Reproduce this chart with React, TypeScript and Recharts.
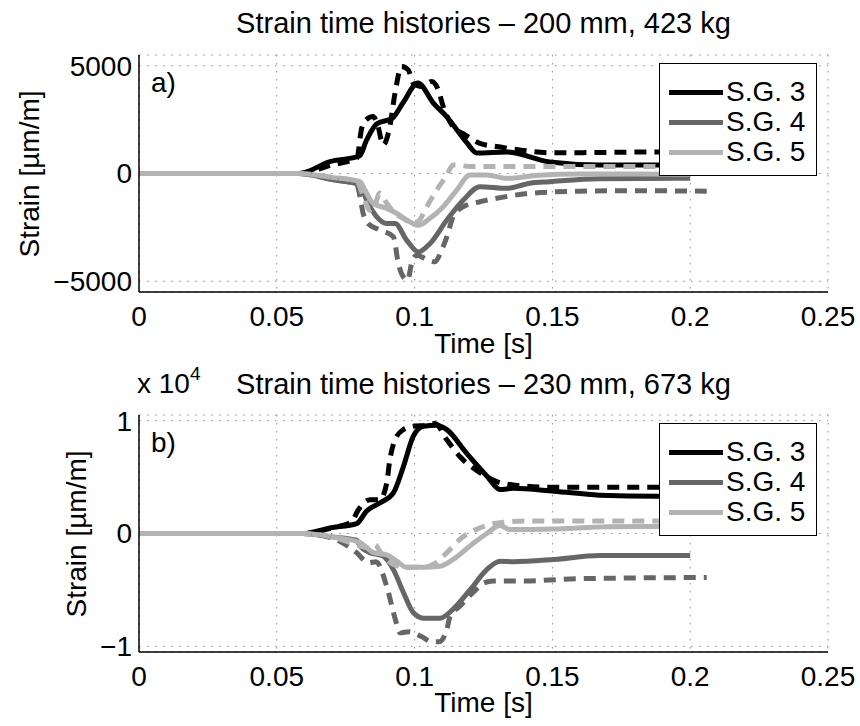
import { LineChart, Line, XAxis, YAxis, CartesianGrid, Legend } from 'recharts';

// axis ticks
const timeTicks = [0, 0.05, 0.1, 0.15, 0.2, 0.25];
const strainTicksA = [-5000, 0, 5000];
const strainTicksB = [-10000, 0, 10000];

// a) 200 mm, 423 kg  -- s = solid, d = dashed
const tA3s = [0, 0.058, 0.0693, 0.08, 0.0826, 0.0862, 0.092, 0.0958, 0.1012, 0.1068, 0.1117, 0.119, 0.1226, 0.1335, 0.149, 0.167, 0.188, 0.2];
const vA3s = [0, 0, 550, 814, 1560, 2300, 2580, 3280, 4200, 3270, 2630, 1420, 950, 1000, 535, 395, 395, 400];
const tA3d = [0, 0.058, 0.07, 0.079, 0.0808, 0.0825, 0.0849, 0.0865, 0.0886, 0.0911, 0.0929, 0.0953, 0.0977, 0.0995, 0.1026, 0.1062, 0.1086, 0.1104, 0.1135, 0.1183, 0.1237, 0.1298, 0.1382, 0.15, 0.17, 0.19, 0.206];
const vA3d = [0, 0, 400, 710, 2100, 2500, 2640, 2300, 1330, 2250, 3740, 4970, 4810, 4200, 4040, 4270, 3880, 3100, 2260, 1790, 1400, 1250, 1090, 960, 980, 1000, 1000];
const tA4s = [0, 0.058, 0.07, 0.0802, 0.0826, 0.0862, 0.0899, 0.0929, 0.0971, 0.1014, 0.1056, 0.1117, 0.1177, 0.1237, 0.1334, 0.1419, 0.149, 0.167, 0.2];
const vA4s = [0, 0, -280, -535, -1233, -2000, -2320, -2320, -3090, -3640, -3250, -2160, -1230, -610, -690, -450, -380, -240, -220];
const tA4d = [0, 0.058, 0.07, 0.079, 0.0802, 0.0813, 0.0831, 0.087, 0.0923, 0.0941, 0.0959, 0.0975, 0.0989, 0.1008, 0.1044, 0.1074, 0.1098, 0.1117, 0.114, 0.1177, 0.1237, 0.1298, 0.1419, 0.16, 0.18, 0.206];
const vA4d = [0, 0, -280, -500, -1080, -1840, -2320, -2600, -2940, -4180, -4800, -4950, -4180, -3790, -3990, -4100, -3560, -2940, -2000, -1540, -1310, -1150, -920, -820, -800, -820];
const tA5s = [0, 0.058, 0.07, 0.0802, 0.082, 0.085, 0.0899, 0.0935, 0.0971, 0.1014, 0.1056, 0.1104, 0.1153, 0.1201, 0.1262, 0.1334, 0.145, 0.16, 0.2];
const vA5s = [0, 0, -180, -380, -770, -1390, -1620, -1850, -2160, -2400, -2080, -1540, -770, -70, -70, -225, -80, -20, -30];
const tA5d = [0, 0.058, 0.07, 0.079, 0.0815, 0.0838, 0.0855, 0.0874, 0.0895, 0.0925, 0.096, 0.0995, 0.1015, 0.1044, 0.108, 0.1117, 0.114, 0.12, 0.13, 0.206];
const vA5d = [0, 0, -180, -350, -1100, -1700, -1500, -900, -1300, -1800, -2100, -2300, -2200, -1540, -770, -70, 400, 330, 320, 320];

// b) 230 mm, 673 kg
const tB3s = [0, 0.0595, 0.0693, 0.079, 0.0826, 0.0874, 0.0923, 0.0959, 0.0995, 0.1032, 0.108, 0.1117, 0.1189, 0.1262, 0.131, 0.1358, 0.1506, 0.167, 0.188, 0.2];
const vB3s = [0, 0, 500, 880, 2000, 2700, 3600, 5900, 8600, 9500, 9600, 9200, 7100, 5100, 3900, 4000, 3750, 3400, 3300, 3300];
const tB3d = [0, 0.0595, 0.07, 0.077, 0.0796, 0.0838, 0.0874, 0.0899, 0.091, 0.0929, 0.0959, 0.0995, 0.1044, 0.1074, 0.1117, 0.1165, 0.1237, 0.1298, 0.1358, 0.15, 0.206];
const vB3d = [0, 0, 500, 1000, 2100, 3000, 3000, 4500, 6500, 8300, 9200, 9500, 9600, 9750, 8300, 6800, 5400, 4600, 4300, 4100, 4100];
const tB4s = [0, 0.0595, 0.07, 0.079, 0.0802, 0.0838, 0.0886, 0.0923, 0.0959, 0.0995, 0.1032, 0.1092, 0.114, 0.1201, 0.1262, 0.131, 0.1358, 0.1506, 0.167, 0.2];
const vB4s = [0, 0, -300, -600, -1100, -1700, -2000, -3200, -5200, -7000, -7500, -7500, -6700, -5000, -3200, -2450, -2500, -2300, -1950, -1950];
const tB4d = [0, 0.0595, 0.07, 0.079, 0.0832, 0.086, 0.0899, 0.093, 0.0947, 0.098, 0.1023, 0.1063, 0.1089, 0.1117, 0.1129, 0.1162, 0.1213, 0.125, 0.1285, 0.14, 0.16, 0.206];
const vB4d = [0, 0, -400, -1700, -2600, -2500, -4700, -7600, -8800, -8700, -9100, -9600, -9600, -8500, -7300, -6500, -5200, -4400, -4200, -4200, -4000, -3900];
const tB5s = [0, 0.0595, 0.07, 0.0802, 0.0851, 0.0899, 0.0935, 0.0971, 0.1032, 0.1092, 0.114, 0.1201, 0.1262, 0.131, 0.1346, 0.15, 0.17, 0.2];
const vB5s = [0, 0, -300, -800, -1700, -1900, -2450, -3000, -3000, -2900, -2300, -1100, 0, 700, 350, 400, 600, 650];
const tB5d = [0, 0.0595, 0.07, 0.079, 0.0838, 0.0856, 0.088, 0.092, 0.097, 0.103, 0.107, 0.1117, 0.1165, 0.1237, 0.131, 0.14, 0.206];
const vB5d = [0, 0, -300, -1000, -1300, -1000, -1800, -2700, -3000, -3000, -2700, -1700, -500, 500, 950, 1100, 1100];

const legendLabels = ['S.G. 3', 'S.G. 4', 'S.G. 5'];

const FONT = '"Liberation Sans", Arial, Helvetica, sans-serif';
const colors = ['#000000', '#666666', '#b3b3b3'];

const zip = (ts: number[], vs: number[]) => ts.map((t, i) => ({ t, v: vs[i] }));

const LegendBox = () => (
  <div style={{
    background: '#fff', border: '1px solid #000', width: 158, height: 113,
    boxSizing: 'border-box', paddingTop: 13, fontFamily: FONT
  }}>
    {legendLabels.map((l, i) => (
      <div key={l} style={{ display: 'flex', alignItems: 'center', height: 30 }}>
        <div style={{ marginLeft: 9, width: 54, height: 5, background: colors[i] }} />
        <span style={{ marginLeft: 3, fontSize: 28, lineHeight: '30px' }}>{l}</span>
      </div>
    ))}
  </div>
);

const Txt = ({ x, y, children, size = 28, rotate = 0, anchor = 'center' }: any) => (
  <div style={{
    position: 'absolute', left: x, top: y, whiteSpace: 'nowrap', fontFamily: FONT, fontSize: size,
    lineHeight: 1, color: '#000',
    transform: `translate(${anchor === 'center' ? '-50%' : '0'}, -50%) rotate(${rotate}deg)`
  }}>{children}</div>
);

const fmtB = (v: number) => (v === 0 ? '0' : v < 0 ? '\u2212' + (-v / 10000) : String(v / 10000));
const fmtA = (v: number) => (v < 0 ? '\u2212' + (-v) : String(v));

const Panel = ({ series, yDomain, yTicks, fmt }: any) => {
  const tickStyle = { fontSize: 28, fill: '#000', fontFamily: FONT };
  return (
    <LineChart width={860} height={363} margin={{ top: 55, right: 32, bottom: 31, left: 39 }}>
      <CartesianGrid stroke="#888" strokeDasharray="1.5 6.5" />
      <XAxis dataKey="t" type="number" domain={[0, 0.25]} ticks={timeTicks} allowDataOverflow
        tick={tickStyle} tickLine={false} tickSize={0} tickMargin={14} height={40}
        axisLine={{ stroke: '#000', strokeWidth: 1.5 }} />
      <XAxis xAxisId="bt" dataKey="t" type="number" domain={[0, 0.25]} ticks={timeTicks} allowDataOverflow
        mirror tick={false} tickSize={6} height={0} axisLine={false} tickLine={{ stroke: '#000' }} />
      <XAxis xAxisId="top" orientation="top" dataKey="t" type="number" domain={[0, 0.25]} ticks={timeTicks} allowDataOverflow
        mirror tick={false} tickSize={6} height={0} axisLine={{ stroke: '#000', strokeWidth: 1.5 }} tickLine={{ stroke: '#000' }} />
      <YAxis type="number" domain={yDomain} ticks={yTicks} allowDataOverflow width={100}
        tick={tickStyle} tickFormatter={fmt} tickLine={false} tickSize={0} tickMargin={7}
        axisLine={{ stroke: '#000', strokeWidth: 1.5 }} />
      <YAxis yAxisId="lt" type="number" domain={yDomain} ticks={yTicks} allowDataOverflow width={0}
        mirror tick={false} tickSize={6} axisLine={false} tickLine={{ stroke: '#000' }} />
      <YAxis yAxisId="rt" orientation="right" type="number" domain={yDomain} ticks={yTicks} allowDataOverflow width={0}
        mirror tick={false} tickSize={6} axisLine={{ stroke: '#000', strokeWidth: 1.5 }} tickLine={{ stroke: '#000' }} />
      {series.map((s: any, i: number) => (
        <Line key={i} data={s.data} dataKey="v" type="monotoneX" dot={false} isAnimationActive={false}
          stroke={colors[s.c]} strokeWidth={5} strokeDasharray={s.dashed ? '12 8' : undefined}
          strokeLinejoin="round" />
      ))}
      <Legend layout="vertical" align="center" verticalAlign="middle" content={() => <LegendBox />}
        wrapperStyle={{ position: 'absolute', left: 659, top: 63, width: 158, height: 113 }} />
    </LineChart>
  );
};

const seriesA = [
  { data: zip(tA3s, vA3s), c: 0 }, { data: zip(tA4s, vA4s), c: 1 }, { data: zip(tA5s, vA5s), c: 2 },
  { data: zip(tA3d, vA3d), c: 0, dashed: true }, { data: zip(tA4d, vA4d), c: 1, dashed: true }, { data: zip(tA5d, vA5d), c: 2, dashed: true },
];
const seriesB = [
  { data: zip(tB3s, vB3s), c: 0 }, { data: zip(tB4s, vB4s), c: 1 }, { data: zip(tB5s, vB5s), c: 2 },
  { data: zip(tB3d, vB3d), c: 0, dashed: true }, { data: zip(tB4d, vB4d), c: 1, dashed: true }, { data: zip(tB5d, vB5d), c: 2, dashed: true },
];

export default function App() {
  return (
    <div style={{ position: 'absolute', left: 0, top: 0, width: 860, height: 726, background: '#fff', overflow: 'hidden' }}>
      <div style={{ position: 'absolute', left: 0, top: 0 }}>
        <Panel series={seriesA} yDomain={[-5500, 5500]} yTicks={strainTicksA} fmt={fmtA} />
      </div>
      <div style={{ position: 'absolute', left: 0, top: 360 }}>
        <Panel series={seriesB} yDomain={[-10500, 10500]} yTicks={strainTicksB} fmt={fmtB} />
      </div>
      <Txt x={483.5} y={23} size={29}>Strain time histories – 200 mm, 423 kg</Txt>
      <Txt x={30} y={173.5} rotate={-90}>Strain [µm/m]</Txt>
      <Txt x={483.5} y={344}>Time [s]</Txt>
      <Txt x={151} y={83} anchor="left">a)</Txt>
      <Txt x={483.5} y={384} size={29}>Strain time histories – 230 mm, 673 kg</Txt>
      <Txt x={137} y={384} anchor="left">x 10<sup style={{ fontSize: 19, verticalAlign: 'top', position: 'relative', top: -6 }}>4</sup></Txt>
      <Txt x={77} y={533.5} rotate={-90}>Strain [µm/m]</Txt>
      <Txt x={483.5} y={703}>Time [s]</Txt>
      <Txt x={151} y={443} anchor="left">b)</Txt>
    </div>
  );
}
